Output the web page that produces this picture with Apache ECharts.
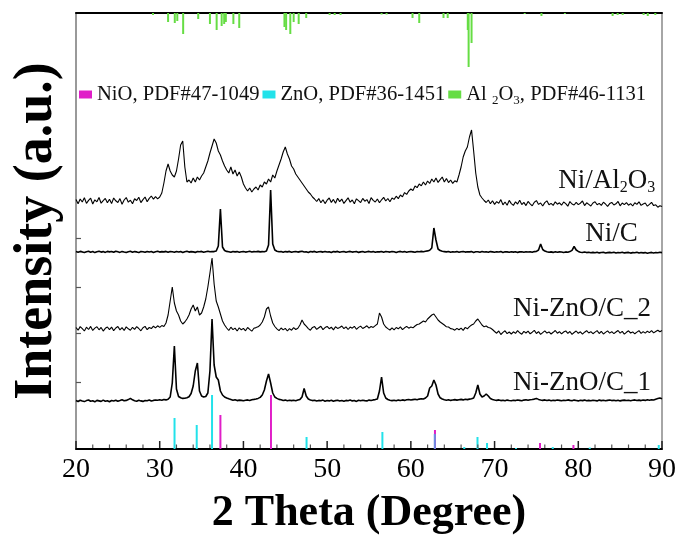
<!DOCTYPE html>
<html>
<head>
<meta charset="utf-8">
<script src="https://cdn.jsdelivr.net/npm/echarts@6/dist/echarts.min.js"></script>
<style>
  html, body { margin: 0; padding: 0; background: #ffffff; }
  #chart { width: 684px; height: 545px; }
</style>
</head>
<body>
<div id="chart"></div>
<script>
// Scan grid: 2θ from 20° to 90° in 0.25° steps (281 points per pattern)
const scanStart = 20;
const scanStep = 0.25;

// Raw intensities (a.u.), one value per grid step, 8 values = 2° per row
const niZnoC1 = [
  0.5, -0.5, 0.8, 0, -0.6, 0.4, 1, -0.3,
  0.2, -0.8, 0.6, 0.1, -0.4, 0.9, -0.2, 0.3,
  -0.7, 0.5, 0, 0.8, -0.3, 0.4, 1.2, 0.2,
  0.6, 1.4, 2.6, 1.2, 0.3, -0.2, 0.7, 0.1,
  -0.4, 0.5, 0.2, 0.9, 0, 0.6, 1, 0.8,
  1.2, 0.7, 1.5, 1.1, 1.8, 4, 18, 55,
  12, 4.5, 3.2, 2.6, 2.8, 3.2, 4.2, 7.5,
  15, 30, 38, 10, 5, 4, 4.5, 8,
  30, 82, 36, 24, 21, 10, 6, 4,
  3, 2.2, 1.5, 0.8, 1.2, 0.4, 0.9, 0.6,
  0.2, 0.8, 1.1, 0.5, 1.3, 1.6, 2, 2.6,
  3.6, 6, 11, 20, 27, 18, 8, 4,
  2.6, 1.6, 1.2, 0.5, 0.9, 0.2, 0.7, 0.4,
  0.8, 0.3, 1, 1.6, 4, 12.5, 5, 2,
  1.1, 0.4, 0.8, 0, 0.6, 0.2, 0.9, -0.2,
  0.5, 0.1, 0.7, -0.3, 0.4, 0.8, 0, 0.5,
  -0.2, 0.6, 0.3, 0.9, 0.1, 0.5, -0.4, 0.7,
  0.2, 0.8, 0.4, 0.1, 0.9, 0.5, 1.1, 1.4,
  2, 10, 24, 8, 3, 1.5, 0.8, 0.4,
  0.7, 0.2, 0.9, 0.5, 1.1, 0.6, 1.2, 1.5,
  1, 1.4, 1.8, 1.3, 1.9, 2.2, 2, 3,
  5, 13, 15, 21, 16, 7, 3.2, 2,
  1.3, 0.8, 1.2, 0.6, 1, 1.4, 0.9, 1.3,
  1.6, 1.1, 1.8, 1.4, 1.9, 2.2, 3, 8,
  16, 7, 4, 5, 7, 5, 2.5, 1.5,
  1, 0.6, 1.1, 0.4, 0.8, 0.2, 0.9, 0.5,
  0.3, 0.8, 0.4, 1, 0.6, 0.2, 0.9, 1.2,
  0.7, 1.3, 1.5, 1.9, 2.6, 1.6, 1, 0.6,
  1.1, 0.5, 0.9, 0.3, 0.7, 0.4, 1, 0.6,
  0.2, 0.8, 0.5, 1.1, 0.6, 0.3, 0.9, 0.5,
  0.1, 0.7, 0.4, 0.9, 0.2, 0.6, 0.3, 0.8,
  0.5, 0.1, 0.9, 0.4, 0.7, 0.2, 0.6, 1,
  0.4, 0.8, 0.3, 0.7, 0.1, 0.6, 0.9, 0.5,
  0.8, 0.3, 0.7, 1.1, 0.5, 0.9, 0.4, 1,
  0.6, 1.2, 0.8, 1.3, 1, 1.8, 2.4, 3,
  2.2
];

const niZnoC2 = [
  1.5, -1.2, 2.4, 0.3, -2, 1.8, -0.5, 2.6,
  -1.4, 0.9, 2.2, -0.8, 1.6, -2.1, 0.7, 2,
  -0.6, 1.9, -1.7, 1, 2.5, -0.9, 1.4, -1.5,
  2.1, 0.2, -1.3, 1.7, -0.4, 2.3, 0.5, -1.8,
  1.2, 2.6, -0.7, 1.5, 0.4, 2.8, 1.1, 3.2,
  1.6, 3.4, 2.5, 6, 14, 28, 42, 26,
  18, 14, 8, 5, 7, 10, 14, 20,
  24, 18, 22, 14, 16, 22, 30, 42,
  56, 71, 45, 28, 22, 15, 8, 4,
  1, -1.5, 1.8, -0.6, 0.9, -2, 1.2, -0.8,
  0.6, -1.8, 1.5, -0.4, -2.2, 0.8, 1.4, 2.2,
  4, 7, 12, 20, 22, 13, 6, 2.5,
  0.2, -1.6, 1, -0.9, 0.6, -2, 0.4, -1.2,
  1.3, -0.5, 0.8, 4, 9, 5, 2.8, 0.4,
  -1.2, 1.6, 2.4, -0.4, 1.2, 2.8, -0.6, 1.4,
  2.6, 0.3, 1.8, -0.9, 2.2, 0.6, 1.5, 3,
  0.4, 2.2, -0.5, 1.9, 0.8, 2.7, -0.3, 1.6,
  2.9, 0.5, 1.8, 3.2, 0.9, 2.5, 1.6, 3.4,
  5, 16, 12, 5, 2, 0.4, -1, 1.2,
  -0.8, 1.5, 0.2, 2.1, -0.6, 1.2, 2.6, 0.8,
  1.9, 1.2, 3, 4.5, 5, 6.5, 8, 7,
  10, 12, 14, 15, 12, 9, 7, 5.5,
  4, 2.2, 2, 0.4, 0, -1.2, 0.6, -0.8,
  0.9, -1.4, 1.6, 0.2, 2.4, 4, 5, 8,
  10, 7, 4, 2.2, 3, 1.5, 1, -0.5,
  -2.5, -4.2, -2, -5.5, -3.4, -1.8, -4.6, -3,
  -5, -2.8, -4.4, -1.6, -3.8, -5.2, -2.4, -4,
  -2.2, -4.8, -3.2, -1.4, -4.5, -2.6, -5.4, -3.6,
  -1.8, -4.1, -2.9, -5, -3.3, -1.5, -4.2, -2.7,
  -4.9, -3, -1.9, -4.4, -2.5, -5.3, -3.5, -2,
  -4.3, -2.8, -5.1, -3.2, -1.7, -4, -2.6, -4.7,
  -3.1, -1.6, -4.5, -2.3, -5, -3.4, -1.9, -4.1,
  -2.7, -4.6, -3, -1.5, -4.2, -2.4, -5.2, -3.3,
  -1.8, -4, -2.9, -4.8, -3.1, -1.7, -4.4, -2.6,
  -4.1, -2.2, -3.6, -1.6, -3.9, -2.5, -1.2, -2.8,
  -1.5
];

const niC = [
  0.4, -0.3, 0.6, 0.1, -0.5, 0.3, 0.8, -0.2,
  0.5, -0.6, 0.2, 0.7, -0.1, 0.4, -0.4, 0.6,
  0.1, 0.5, -0.3, 0.8, 0.2, -0.4, 0.6, 0,
  -0.5, 0.3, 0.7, -0.2, 0.4, 0.1, -0.6, 0.5,
  0.2, -0.3, 0.6, 0, 0.5, -0.4, 0.3, 0.7,
  -0.1, 0.4, 0.1, 0.6, -0.3, 0.5, 0.2, -0.2,
  0.6, 0, 0.4, -0.5, 0.3, 0.7, -0.1, 0.4,
  0.1, -0.4, 0.5, 0.2, 0.6, -0.2, 0.3, 0.8,
  0.2, 0.5, 0.4, 1, 6, 43, 5, 1.5,
  0.6, 0.2, -0.3, 0.5, 0.1, 0.4, -0.2, 0.3,
  0.5, -0.1, 0.3, 0.7, 0, 0.4, 0.2, 0.6,
  0.1, 0.4, 0.3, 1, 7, 62, 8, 2,
  0.8, 0.3, 0.5, -0.2, 0.4, 0.1, 0.6, -0.3,
  0.2, 0.5, -0.1, 0.4, 0.7, 0, 0.3, -0.4,
  0.5, 0.1, 0.6, -0.2, 0.3, 0.4, -0.1, 0.5,
  0, 0.3, -0.5, 0.4, 0.1, 0.6, -0.2, 0.2,
  0.5, -0.3, 0.2, 0.6, -0.1, 0.3, 0.4, -0.4,
  0.1, 0.5, -0.2, 0.3, 0.6, 0, 0.4, -0.3,
  0.3, 0.1, 0.5, -0.2, 0.4, 0.2, -0.1, 0.5,
  0.2, -0.4, 0.3, 0.6, 0, 0.4, -0.2, 0.3,
  0.5, 0.1, -0.3, 0.4, 0.2, 0.6, 0.3, 0.8,
  1.1, 1.8, 4, 24, 12, 3, 1.4, 0.7,
  0.4, 0.1, 0.5, -0.2, 0.3, 0, 0.4, -0.3,
  0.2, 0.5, -0.1, 0.3, 0.1, 0.4, -0.4, 0.2,
  0.3, -0.2, 0.5, 0, 0.2, -0.3, 0.4, 0.1,
  -0.2, 0.3, 0, 0.4, -0.4, 0.2, 0.1, -0.3,
  0.3, -0.1, 0.2, -0.4, 0.1, 0.3, -0.2, 0.2,
  0, 0.3, -0.3, 0.4, 0.6, 2, 8, 2.5,
  0.9, 0.3, -0.2, 0.1, -0.4, 0.2, -0.3, 0.1,
  0, -0.5, 0.1, -0.3, 0.4, 1.6, 5.5, 2,
  0.6, -0.2, -0.5, 0, -0.6, -0.3, -0.8, -0.4,
  -0.7, -0.2, -0.9, -0.5, -0.3, -1, -0.6, -0.4,
  -0.8, -0.3, -1, -0.5, -0.7, -0.2, -0.9, -0.6,
  -0.4, -1.1, -0.6, -0.8, -0.3, -1, -0.5, -0.9,
  -0.6, -1.2, -0.7, -0.4, -1, -0.5, -0.8, -0.3,
  -0.6
];

const niAl2o3 = [
  1.5, -2.8, 2, -1, 3.2, -2.4, 0.6, 2.8,
  -3, 1.2, -0.8, 3.5, -2.2, 0.4, 2.6, -1.8,
  1.8, -2.6, 3, 0.2, -1.5, 2.4, -3.2, 1,
  3.4, -1.2, 0.8, -2.8, 2.2, 0.5, 3.8, -1.6,
  1.4, 4, -0.8, 2.6, 5, 1.8, 4.4, 2.2,
  4, 8, 18, 30, 37, 30, 26, 24,
  30, 42, 56, 60, 34, 19, 21, 18,
  23, 19, 24, 21, 25, 28, 34, 40,
  48, 55, 62, 58, 50, 46, 40, 35,
  31, 28, 34, 27, 31, 25, 29, 24,
  17, 13, 10, 13, 9, 12, 14, 11,
  16, 14, 19, 17, 22, 19, 26, 23,
  30, 36, 42, 49, 54, 47, 42, 35,
  32, 27, 24, 21, 18, 15, 12, 9,
  7, 4, 2, -0.5, 2.4, -1.8, 1.2, -2.6,
  0.8, 3, -1.4, 1.6, -2.2, 2.8, -0.6, 1.9,
  -2.4, 0.4, 3.2, -1.2, 1, -2.8, 2.2, 0.3,
  -1.6, 2.6, -0.2, 1.4, -2.5, 3.4, 0.6, -1,
  2, -1.8, 1.2, 3.6, 0, 2.5, -0.8, 3,
  1.6, 4.8, 2.4, 6, 4.2, 8.4, 6.6, 10,
  12, 10.5, 15, 13.4, 17, 15.2, 19, 16,
  20, 17.5, 22, 19, 23, 18.6, 21.4, 24,
  19, 22.5, 18.4, 21, 17.6, 20.2, 19, 26,
  34, 44, 50, 54, 64, 71, 50, 28,
  14, 6, 3, 0.5, -1.5, 1, -2.8, 0.2,
  -3.4, -0.6, -2.2, 1.4, -3.8, -1, -4.2, 0.6,
  -2.6, -4.4, -0.8, -3, 0.8, -3.6, -1.4, -4.6,
  -0.4, -2.8, -4.8, -1.2, 0.4, -3.4, -2, -5,
  -1.6, 0.2, -3.8, -2.4, -4.4, -0.8, -3.2, -1.8,
  -4.2, -1, -2.6, -5.2, -0.6, -3, -4, -1.4,
  -3.6, -2.2, 0, -4.6, -1.8, -3.4, -5, -2,
  -0.8, -3.8, -2.4, -4.4, -1.2, -3, -5.4, -2.6,
  -1.4, -4, -2.8, -0.4, -4.8, -2, -3.6, -1.6,
  -4.2, -2.6, -5, -1.8, -3.4, -0.8, -4.4, -3,
  -2, -5.2, -3.4, -1.4, -4.6, -3.8, -6.2, -4.8,
  -5.6
];

// Vertical offsets used to stack the patterns
const patternNames = ['Ni-ZnO/C_1', 'Ni-ZnO/C_2', 'Ni/C', 'Ni/Al2O3'];
const patternOffsets = [48, 120, 197, 248];

// Reference patterns (stick positions in 2θ, stick lengths in a.u.)
const nioPos = [37.25, 43.29, 62.88, 75.43, 79.42];
const nioLen = [34, 54, 19, 6, 4];
const znoPos = [31.77, 34.42, 36.25, 47.54, 56.60, 62.86, 66.38, 67.96, 69.10, 72.56, 76.95, 81.37, 89.61];
const znoLen = [31, 24, 54, 12, 17, 15, 2, 12, 6, 1, 2, 1.5, 4];
// Al2O3 sticks hang down from the top frame
const al2o3Pos = [29.2, 31.0, 31.8, 32.1, 32.8, 34.6, 36.0, 36.8, 37.4, 37.7, 37.9, 38.8, 39.5,
  44.9, 45.1, 45.6, 46.0, 46.6, 47.5, 50.3, 50.9, 51.6, 56.5, 57.1, 60.2, 61.0, 63.9, 64.4,
  66.8, 66.9, 67.25, 73.6, 75.6, 78.4, 84.1, 84.7, 85.3, 87.8, 88.3, 89.2];
const al2o3Len = [2, 9, 10, 8, 21, 6, 11, 17, 13, 11, 9, 11, 15,
  14, 17, 21, 9, 11, 5, 2, 2, 2, 1.5, 1.5, 5, 10, 5, 5,
  17, 54, 30, 1, 3, 1, 3, 2, 2, 2, 3, 2];

const refNames = ['NiO, PDF#47-1049', 'ZnO, PDF#36-1451', 'Al2O3, PDF#46-1131'];
const refColors = ['#e01ec8', '#22e2ea', '#66dd44'];

// Axis ticks: labelled every 10°, minor ticks every 2°
const xMajorTicks = [20, 30, 40, 50, 60, 70, 80, 90];
const xMinorTicks = [22, 24, 26, 28, 32, 34, 36, 38, 42, 44, 46, 48, 52, 54, 56, 58,
  62, 64, 66, 68, 72, 74, 76, 78, 82, 84, 86, 88];
const yTickValues = [67, 116, 162, 211];

const Y_MAX = 436;
const SERIF = '"Liberation Serif", "Times New Roman", serif';

const chart = echarts.init(document.getElementById('chart'), null, { renderer: 'canvas' });

function patternSeries(name, values, offset, width) {
  return {
    name: name,
    type: 'line',
    showSymbol: false,
    symbol: 'none',
    silent: true,
    animation: false,
    data: values.map((v, i) => [scanStart + scanStep * i, v + offset]),
    lineStyle: { color: '#000000', width: width },
    z: 3
  };
}

function stickSeries(name, pos, len, color, fromTop, otherPos, blendColor) {
  return {
    name: name,
    type: 'custom',
    silent: true,
    animation: false,
    itemStyle: { color: color },
    data: pos.map((p, i) => [p, len[i]]),
    encode: { x: 0, y: 1 },
    z: 4,
    renderItem: function (params, api) {
      const x = api.value(0);
      const h = api.value(1);
      const base = fromTop ? Y_MAX : 0;
      const end = fromTop ? Y_MAX - h : h;
      const p0 = api.coord([x, base]);
      const p1 = api.coord([x, end]);
      let stroke = color;
      if (otherPos && otherPos.some(o => Math.abs(o - x) < 0.1)) stroke = blendColor;
      return {
        type: 'line',
        shape: { x1: p0[0], y1: p0[1], x2: p1[0], y2: p1[1] },
        style: { stroke: stroke, lineWidth: 2 }
      };
    }
  };
}

const option = {
  backgroundColor: '#ffffff',
  animation: false,
  grid: { left: 76, right: 22, top: 13, bottom: 96, containLabel: false },
  legend: {
    data: refNames,
    left: 79,
    top: 84,
    padding: 0,
    itemGap: 3,
    itemWidth: 13,
    itemHeight: 8,
    icon: 'rect',
    selectedMode: false,
    textStyle: {
      fontFamily: SERIF, fontSize: 20.6, color: '#111',
      rich: { sub: { fontFamily: SERIF, fontSize: 13, padding: [12, 0, 0, 0], color: '#111' } }
    },
    formatter: function (n) {
      return n.replace('Al2O3', 'Al {sub|2}O{sub|3}');
    }
  },
  xAxis: [{
    type: 'value',
    min: 20, max: 90, interval: 10,
    position: 'bottom',
    name: '2 Theta (Degree)',
    nameLocation: 'middle',
    nameGap: 43,
    nameTextStyle: { fontFamily: SERIF, fontSize: 44, fontWeight: 'bold', color: '#000' },
    axisLine: { show: true, onZero: false, lineStyle: { color: '#000', width: 2 } },
    axisTick: { show: false },
    axisLabel: { fontFamily: SERIF, fontSize: 28, color: '#000', margin: 7 },
    splitLine: { show: false }
  }, {
    type: 'value',
    min: 20, max: 90,
    position: 'top',
    axisLine: { show: true, onZero: false, lineStyle: { color: '#000', width: 2 } },
    axisTick: { show: false },
    axisLabel: { show: false },
    splitLine: { show: false }
  }],
  yAxis: [{
    type: 'value',
    min: 0, max: Y_MAX,
    position: 'left',
    name: 'Intensity (a.u.)',
    nameLocation: 'middle',
    nameGap: 12,
    nameTextStyle: {
      fontFamily: SERIF, fontSize: 54, fontWeight: 'bold', color: '#000'
    },
    axisLine: { show: true, onZero: false, lineStyle: { color: '#777', width: 1.5 } },
    axisTick: { show: true, inside: true, length: 5, lineStyle: { color: '#555', width: 1.2 }, customValues: yTickValues },
    axisLabel: { show: false },
    splitLine: { show: false }
  }, {
    type: 'value',
    min: 0, max: Y_MAX,
    position: 'right',
    axisLine: { show: true, onZero: false, lineStyle: { color: '#888', width: 1.5 } },
    axisTick: { show: false },
    axisLabel: { show: false },
    splitLine: { show: false }
  }],
  series: [
    patternSeries(patternNames[0], niZnoC1, patternOffsets[0], 1.6),
    patternSeries(patternNames[1], niZnoC2, patternOffsets[1], 1.1),
    patternSeries(patternNames[2], niC, patternOffsets[2], 1.6),
    patternSeries(patternNames[3], niAl2o3, patternOffsets[3], 1.1),
    stickSeries(refNames[0], nioPos, nioLen, refColors[0], false),
    stickSeries(refNames[1], znoPos, znoLen, refColors[1], false, nioPos, '#6a8ee0'),
    stickSeries(refNames[2], al2o3Pos, al2o3Len, refColors[2], true)
  ]
};

chart.setOption(option);

// Inward ticks on the bottom frame, placed through the x scale
function tickMarks(values, lengthPx, color, width) {
  return values.map(v => {
    const p = chart.convertToPixel({ xAxisIndex: 0, yAxisIndex: 0 }, [v, 0]);
    return {
      type: 'line', silent: true, z: 20,
      shape: { x1: p[0], y1: p[1] - 1, x2: p[0], y2: p[1] - 1 - lengthPx },
      style: { stroke: color, lineWidth: width }
    };
  });
}

// Pattern name tags at the right end of each trace
const tagStyle = {
  fontFamily: SERIF, fontSize: 27, fill: '#111',
  align: 'right', verticalAlign: 'middle',
  rich: { sub: { fontFamily: SERIF, fontSize: 16, padding: [14, 0, 0, 0], fill: '#111' } }
};
const tags = [
  { text: 'Ni-ZnO/C_1', at: [88.7, 66] },
  { text: 'Ni-ZnO/C_2', at: [88.7, 140] },
  { text: 'Ni/C', at: [87.1, 215] },
  { text: 'Ni/Al{sub|2}O{sub|3}', at: [89.2, 268] }
];
const tagElements = tags.map(t => {
  const p = chart.convertToPixel({ xAxisIndex: 0, yAxisIndex: 0 }, t.at);
  return {
    type: 'text', x: p[0], y: p[1], silent: true, z: 10,
    style: Object.assign({ text: t.text }, tagStyle)
  };
});

chart.setOption({
  graphic: tagElements
    .concat(tickMarks(xMajorTicks, 7, '#222', 1.5))
    .concat(tickMarks(xMinorTicks, 3.5, '#555', 1.2))
});
</script>
</body>
</html>
